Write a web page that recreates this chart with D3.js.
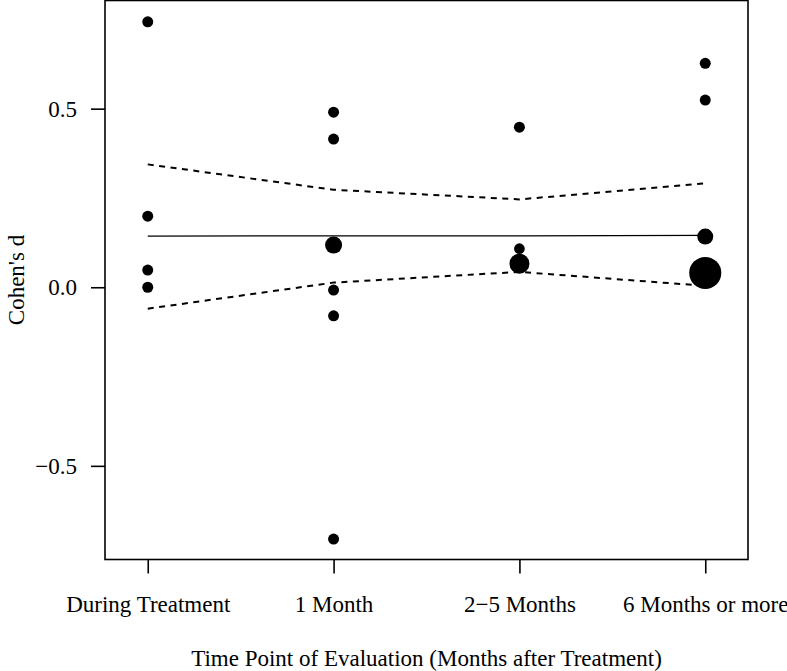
<!DOCTYPE html>
<html>
<head>
<meta charset="utf-8">
<script src="https://cdn.jsdelivr.net/npm/d3@7"></script>
<style>
  html, body { margin: 0; padding: 0; background: #fff; }
  svg { display: block; }
  text { font-family: "Liberation Serif", "Times New Roman", serif; fill: #000; }
</style>
</head>
<body>
<svg id="chart" width="787" height="671"></svg>
<script>
// ---- data ----
const categories = ["During Treatment", "1 Month", "2\u22125 Months", "6 Months or more"];

// individual effect sizes (Cohen's d) and their relative weights
const pointCategory = [0, 0, 0, 0, 1, 1, 1, 1, 1, 1, 2, 2, 2, 3, 3, 3, 3];
const pointValue    = [0.743, 0.199, 0.048, 0.000,
                       0.490, 0.415, 0.118, -0.008, -0.080, -0.705,
                       0.448, 0.108, 0.066,
                       0.627, 0.524, 0.142, 0.040];
const pointWeight   = [1, 1, 1, 1,
                       1, 1, 2.4, 1, 1, 1,
                       1, 0.95, 3.3,
                       1, 1, 2.1, 8.5];

// model fit: estimate and confidence bounds per time point
const fitMean  = [0.143, 0.144, 0.144, 0.145];
const fitUpper = [0.344, 0.273, 0.246, 0.291];
const fitLower = [-0.060, 0.013, 0.043, 0.004];

const yTicks = [-0.5, 0.0, 0.5];
const yTickLabels = ["\u22120.5", "0.0", "0.5"];
const xTitle = "Time Point of Evaluation (Months after Treatment)";
const yTitle = "Cohen's d";

// ---- layout ----
const svg = d3.select("#chart");
const mLeft = 105, mRight = 748, mTop = 0.5, mBottom = 559.5;

const x = d3.scaleLinear().domain([-0.23, 3.23]).range([mLeft, mRight]);
const y = d3.scaleLinear().domain([-0.7622, 0.8028]).range([mBottom, mTop]);
const r = d3.scaleSqrt().domain([0, 1]).range([0, 5.5]);

const fontSize = 23;

// plot box
svg.append("rect")
  .attr("x", mLeft).attr("y", mTop)
  .attr("width", mRight - mLeft).attr("height", mBottom - mTop)
  .attr("fill", "none").attr("stroke", "#000").attr("stroke-width", 1.6);

// y axis
const yAxis = d3.axisLeft(y)
  .tickValues(yTicks)
  .tickFormat((d, i) => yTickLabels[i])
  .tickSize(14)
  .tickPadding(14);
const gy = svg.append("g").attr("transform", `translate(${mLeft},0)`).call(yAxis);
gy.select(".domain").remove();
gy.selectAll(".tick line").attr("stroke", "#000").attr("stroke-width", 1.6);
gy.selectAll(".tick text")
  .attr("font-size", fontSize)
  .attr("font-family", "Liberation Serif, Times New Roman, serif")
  .attr("fill", "#000");

// x axis
const xAxis = d3.axisBottom(x)
  .tickValues(d3.range(categories.length))
  .tickFormat((d) => categories[d])
  .tickSize(14)
  .tickPadding(0);
const gx = svg.append("g").attr("transform", `translate(0,${mBottom})`).call(xAxis);
gx.select(".domain").remove();
gx.selectAll(".tick line").attr("stroke", "#000").attr("stroke-width", 1.6);
gx.selectAll(".tick text")
  .attr("font-size", fontSize)
  .attr("font-family", "Liberation Serif, Times New Roman, serif")
  .attr("fill", "#000")
  .attr("dy", null)
  .attr("y", 611.5 - mBottom);

// axis titles
svg.append("text")
  .attr("x", (mLeft + mRight) / 2).attr("y", 665.5)
  .attr("text-anchor", "middle")
  .attr("font-size", fontSize)
  .text(xTitle);

svg.append("text")
  .attr("transform", `translate(24,${(mTop + mBottom) / 2}) rotate(-90)`)
  .attr("text-anchor", "middle")
  .attr("font-size", fontSize)
  .text(yTitle);

// fit lines
const line = d3.line().x((d, i) => x(i)).y((d) => y(d));
svg.append("path").datum(fitMean).attr("d", line)
  .attr("fill", "none").attr("stroke", "#000").attr("stroke-width", 1.3);
svg.append("path").datum(fitUpper).attr("d", line)
  .attr("fill", "none").attr("stroke", "#000").attr("stroke-width", 2)
  .attr("stroke-dasharray", "6,5.5");
svg.append("path").datum(fitLower).attr("d", line)
  .attr("fill", "none").attr("stroke", "#000").attr("stroke-width", 2)
  .attr("stroke-dasharray", "6,5.5");

// points
svg.append("g").selectAll("circle")
  .data(pointValue.map((v, i) => ({ c: pointCategory[i], v: v, w: pointWeight[i] })))
  .join("circle")
  .attr("cx", (d) => x(d.c))
  .attr("cy", (d) => y(d.v))
  .attr("r", (d) => r(d.w))
  .attr("fill", "#000");
</script>
</body>
</html>
